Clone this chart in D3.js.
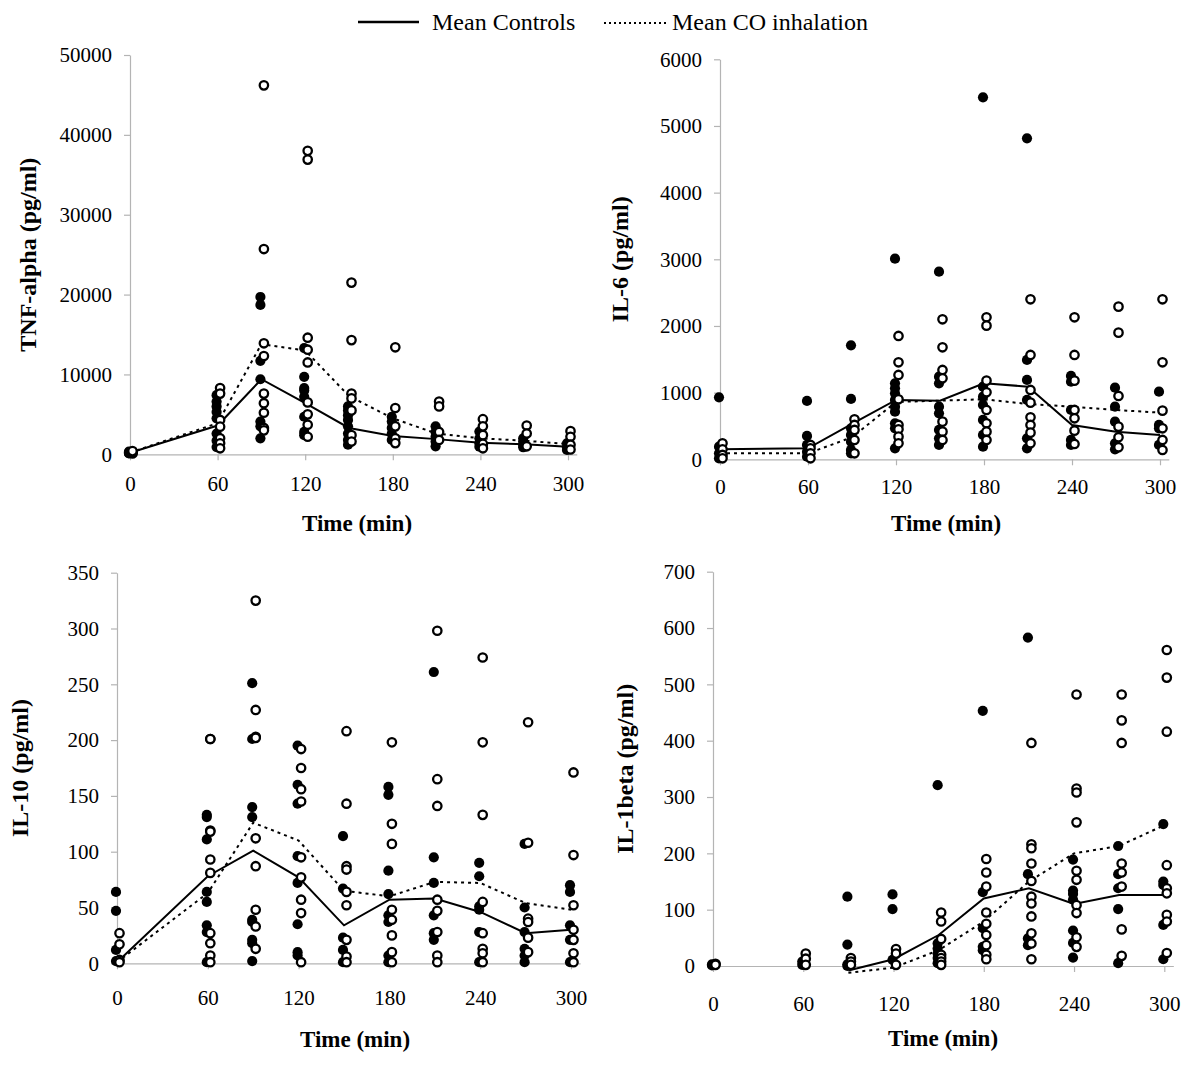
<!DOCTYPE html>
<html>
<head>
<meta charset="utf-8">
<script src="https://cdn.jsdelivr.net/npm/d3@7/dist/d3.min.js"></script>
<style>
  html, body { margin: 0; padding: 0; background: #fff; }
  svg { display: block; }
  svg text { font-family: "Liberation Serif", "Times New Roman", serif !important; fill: #000; }
</style>
</head>
<body>
<svg id="chart" width="1200" height="1065"></svg>
<script>
// ---------------- DATA ----------------
const times = [0, 60, 90, 120, 150, 180, 210, 240, 270, 300];
const xTicks = [0, 60, 120, 180, 240, 300];

// TNF-alpha (pg/ml)
const tnfTicks = [0, 10000, 20000, 30000, 40000, 50000];
const tnfCtrl = [
  [150, 250, 350, 100],
  [7400, 6600, 6000, 5300, 4500, 2600, 1700, 900],
  [19700, 18700, 11700, 9400, 4100, 3500, 2000],
  [13300, 9700, 8300, 8000, 7200, 4700, 2800, 2400],
  [6000, 5500, 4900, 4300, 3500, 2600, 1800, 1200],
  [4700, 4100, 3300, 2600, 1800],
  [3500, 2800, 2200, 1600, 1000],
  [2840, 2000, 1380, 960],
  [2000, 1590, 1170, 880],
  [1380, 880, 540]
];
const tnfCO = [
  [100, 200, 300, 400],
  [8300, 7600, 4300, 3460, 2000, 1380, 750],
  [46200, 25700, 13900, 12300, 7600, 6400, 5200, 3300, 3000],
  [38000, 36900, 14600, 13100, 11500, 6500, 5000, 3700, 2200],
  [21500, 14300, 7600, 7000, 5500, 2400, 1600],
  [13400, 5800, 3500, 2000, 1400],
  [6600, 6000, 2800, 1800],
  [4400, 3500, 2400, 1300, 750],
  [3600, 2600, 1000],
  [2900, 2200, 1200, 600]
];
const tnfCtrlMean = [200, 3600, 9400, 6400, 3300, 2300, 1900, 1450, 1250, 950];
const tnfCOMean   = [200, 3900, 13800, 13000, 7300, 4500, 2600, 2000, 1700, 1300];

// IL-6 (pg/ml)
const il6Ticks = [0, 1000, 2000, 3000, 4000, 5000, 6000];
const il6Ctrl = [
  [930, 190, 90, 15],
  [875, 350, 215, 115, 40],
  [1710, 905, 465, 365, 265, 140, 90],
  [3010, 1140, 1065, 990, 890, 790, 715, 540, 465, 165],
  [2815, 1240, 1140, 790, 690, 440, 315, 215],
  [5430, 1090, 940, 815, 590, 365, 190],
  [4815, 1490, 1190, 890, 315, 165],
  [1250, 1165, 740, 290, 215],
  [1075, 790, 565, 240, 150],
  [1015, 515, 465, 215]
];
const il6CO = [
  [240, 150, 65, 15],
  [215, 165, 90, 15],
  [600, 515, 440, 290, 90],
  [1850, 1455, 1265, 900, 515, 450, 340, 240],
  [2100, 1680, 1340, 1215, 565, 415, 290],
  [2130, 2005, 1180, 1005, 740, 540, 415, 290],
  [2400, 1565, 1040, 850, 630, 515, 400, 240],
  [2130, 1565, 1180, 740, 615, 430, 230],
  [2290, 1900, 950, 490, 330, 180],
  [2400, 1455, 730, 465, 290, 140]
];
const il6CtrlMean = [150, 165, 530, 890, 880, 1140, 1090, 515, 415, 365];
const il6COMean   = [90, 90, 330, 860, 880, 900, 830, 790, 740, 700];

// IL-10 (pg/ml)
const il10Ticks = [0, 50, 100, 150, 200, 250, 300, 350];
const il10Ctrl = [
  [64, 47, 12, 2],
  [133, 131, 111, 64, 55, 34, 28, 1],
  [251, 201, 140, 131, 39, 37, 21, 18, 2],
  [195, 160, 143, 96, 72, 35, 10, 7],
  [114, 67, 23, 12, 1],
  [158, 151, 83, 62, 43, 37, 7, 1],
  [261, 95, 72, 43, 27, 21],
  [90, 78, 51, 48, 28, 1],
  [107, 50, 28, 13, 7, 1],
  [70, 64, 34, 21, 1]
];
const il10CO = [
  [27, 17, 3, 1],
  [201, 201, 119, 118, 93, 81, 27, 18, 7, 1],
  [325, 227, 203, 202, 112, 87, 48, 33, 13],
  [192, 175, 156, 145, 95, 77, 57, 45, 1],
  [208, 143, 87, 84, 64, 52, 21, 6, 1],
  [198, 125, 107, 48, 39, 25, 10, 1],
  [298, 165, 141, 57, 47, 28, 7, 1],
  [274, 198, 133, 55, 27, 13, 9, 1],
  [216, 108, 40, 37, 23, 10],
  [171, 97, 52, 30, 21, 9, 1]
];
const il10CtrlMean = [1, 78, 101, 77, 34, 57, 58, 46, 27, 30];
const il10COMean   = [1, 63, 126, 110, 65, 60, 73, 72, 54, 48];

// IL-1beta (pg/ml)
const il1bTicks = [0, 100, 200, 300, 400, 500, 600, 700];
const il1bCtrl = [
  [3, 1],
  [8, 2],
  [123, 38, 3, 0],
  [127, 101, 11],
  [321, 40, 31, 22, 14, 5],
  [453, 131, 67, 34, 28],
  [583, 163, 49, 37],
  [189, 134, 128, 118, 63, 41, 15],
  [213, 163, 138, 101, 5],
  [252, 150, 144, 73, 12]
];
const il1bCO = [
  [4, 2],
  [22, 13, 2],
  [14, 8, 2],
  [30, 22, 2],
  [95, 79, 48, 20, 14, 8, 2],
  [190, 166, 141, 95, 75, 55, 37, 20, 12],
  [396, 216, 209, 182, 151, 123, 111, 88, 58, 40, 12],
  [482, 315, 308, 255, 169, 153, 108, 94, 51, 34],
  [482, 436, 396, 182, 166, 141, 65, 18],
  [561, 512, 416, 179, 138, 129, 91, 79, 23]
];
const il1bCtrlMean = [null, null, -8, 12, 55, 120, 138, 110, 126, 126];
const il1bCOMean   = [null, null, -12, -3, 28, 79, 150, 200, 213, 250];

// ---------------- LAYOUT ----------------
const panels = [
  { title: "TNF-alpha (pg/ml)", ticks: tnfTicks, ctrl: tnfCtrl, co: tnfCO, cm: tnfCtrlMean, om: tnfCOMean,
    x0: 130, x300: 568, y0: 454.3, yTop: 55, yTitleX: 28, xPad: 16, xTitleX: 357, xTitleY: 531 },
  { title: "IL-6 (pg/ml)", ticks: il6Ticks, ctrl: il6Ctrl, co: il6CO, cm: il6CtrlMean, om: il6COMean,
    x0: 720, x300: 1160, y0: 459.3, yTop: 59.3, yTitleX: 620, xPad: 14, xTitleX: 946, xTitleY: 531 },
  { title: "IL-10 (pg/ml)", ticks: il10Ticks, ctrl: il10Ctrl, co: il10CO, cm: il10CtrlMean, om: il10COMean,
    x0: 117, x300: 571, y0: 963.3, yTop: 572.7, yTitleX: 20, xPad: 21, xTitleX: 355, xTitleY: 1047 },
  { title: "IL-1beta (pg/ml)", ticks: il1bTicks, ctrl: il1bCtrl, co: il1bCO, cm: il1bCtrlMean, om: il1bCOMean,
    x0: 713, x300: 1164.3, y0: 966, yTop: 571.7, yTitleX: 625, xPad: 24, xTitleX: 943, xTitleY: 1046 }
];

const svg = d3.select("#chart");
const AXIS_COLOR = "#b4b4b4";
const SERIF = "'Liberation Serif', 'Times New Roman', serif";

panels.forEach(p => {
  const xMaxDom = 306;
  const x = d3.scaleLinear().domain([0, xMaxDom]).range([p.x0, p.x0 + (p.x300 - p.x0) * xMaxDom / 300]);
  const yMax = p.ticks[p.ticks.length - 1];
  const y = d3.scaleLinear().domain([0, yMax]).range([p.y0, p.yTop]);
  const g = svg.append("g");

  // x axis
  const xa = g.append("g").attr("transform", `translate(0,${p.y0})`)
    .call(d3.axisBottom(x).tickValues(xTicks).tickSize(6).tickSizeOuter(0).tickPadding(p.xPad).tickFormat(d3.format("d")));
  // y axis
  const ya = g.append("g").attr("transform", `translate(${p.x0},0)`)
    .call(d3.axisLeft(y).tickValues(p.ticks).tickSize(6).tickSizeOuter(0).tickPadding(12).tickFormat(d3.format("d")));
  [xa, ya].forEach(a => {
    a.attr("font-family", null).attr("font-size", null);
    a.select(".domain").attr("stroke", AXIS_COLOR).attr("stroke-width", 1.2);
    a.selectAll(".tick line").attr("stroke", AXIS_COLOR).attr("stroke-width", 1.2);
    a.selectAll(".tick text").style("font-size", "21px").style("font-family", SERIF).attr("fill", "#000");
  });

  // titles
  g.append("text").attr("x", p.xTitleX).attr("y", p.xTitleY).attr("text-anchor", "middle")
    .style("font-size", "23px").style("font-family", SERIF).attr("font-weight", "bold").text("Time (min)");
  const yc = (p.y0 + p.yTop) / 2;
  g.append("text").attr("transform", `translate(${p.yTitleX},${yc}) rotate(-90)`)
    .attr("text-anchor", "middle").attr("dy", "0.35em")
    .style("font-size", "24px").style("font-family", SERIF).attr("font-weight", "bold").text(p.title);

  // mean lines
  const line = d3.line().defined(d => d.v !== null).x(d => x(d.t)).y(d => y(d.v));
  g.append("path").datum(times.map((t, i) => ({ t, v: p.cm[i] })))
    .attr("d", line).attr("fill", "none").attr("stroke", "#000").attr("stroke-width", 2);
  g.append("path").datum(times.map((t, i) => ({ t, v: p.om[i] })))
    .attr("d", line).attr("fill", "none").attr("stroke", "#000").attr("stroke-width", 2)
    .attr("stroke-dasharray", "3,4");

  // points
  const ctrlPts = [], coPts = [];
  times.forEach((t, i) => {
    p.ctrl[i].forEach(v => ctrlPts.push({ t, v }));
    p.co[i].forEach(v => coPts.push({ t, v }));
  });
  g.append("g").selectAll("circle").data(ctrlPts).join("circle")
    .attr("cx", d => x(d.t) - 1).attr("cy", d => y(d.v)).attr("r", 5.1)
    .attr("fill", "#000");
  g.append("g").selectAll("circle").data(coPts).join("circle")
    .attr("cx", d => x(d.t) + 2.5).attr("cy", d => y(d.v)).attr("r", 4.2)
    .attr("fill", "#fff").attr("stroke", "#000").attr("stroke-width", 2.3);
});

// legend
const lg = svg.append("g");
lg.append("line").attr("x1", 358).attr("x2", 419).attr("y1", 22).attr("y2", 22)
  .attr("stroke", "#000").attr("stroke-width", 2.5);
lg.append("text").attr("x", 432).attr("y", 30).style("font-size", "24px").style("font-family", SERIF).text("Mean Controls");
lg.append("line").attr("x1", 604).attr("x2", 666).attr("y1", 23).attr("y2", 23)
  .attr("stroke", "#000").attr("stroke-width", 2).attr("stroke-dasharray", "2,3");
lg.append("text").attr("x", 672).attr("y", 30).style("font-size", "24px").style("font-family", SERIF).text("Mean CO inhalation");
</script>
</body>
</html>
